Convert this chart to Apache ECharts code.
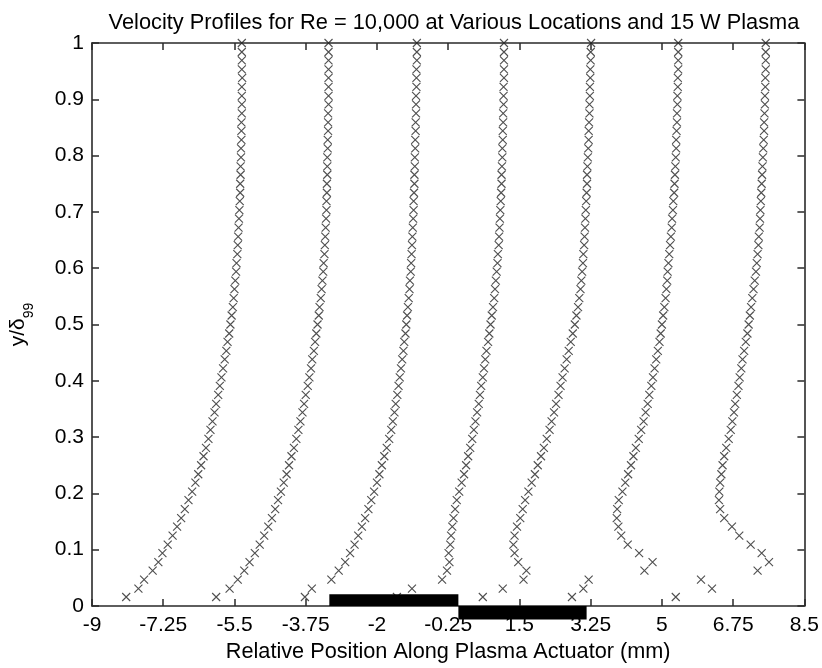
<!DOCTYPE html>
<html>
<head>
<meta charset="utf-8">
<script src="https://cdn.jsdelivr.net/npm/echarts@6/dist/echarts.min.js"></script>
<style>
html,body{margin:0;padding:0;background:#fff;}
#chart{width:822px;height:668px;}
</style>
</head>
<body>
<div id="chart"></div>
<script>
// Normalised wall-normal positions y/delta99 (shared by all profiles)
const yLevels = [0.016,0.031,0.047,0.063,0.078,0.094,0.109,0.125,0.141,0.156,0.172,0.188,0.203,0.219,0.234,0.250,
  0.266,0.281,0.297,0.313,0.328,0.344,0.359,0.375,0.391,0.406,0.422,0.438,0.453,0.469,0.484,0.500,
  0.516,0.531,0.547,0.563,0.578,0.594,0.609,0.625,0.641,0.656,0.672,0.688,0.703,0.719,0.734,0.750,
  0.766,0.781,0.797,0.813,0.828,0.844,0.859,0.875,0.891,0.906,0.922,0.938,0.953,0.969,0.984,1.000];

// Horizontal position of each marker (profile offset + scaled velocity), one array per station
const profile1 = [-8.16,-7.86,-7.72,-7.51,-7.37,-7.27,-7.14,-7.02,-6.91,-6.81,-6.72,-6.63,-6.54,-6.46,-6.39,-6.32,
  -6.26,-6.20,-6.14,-6.09,-6.04,-5.99,-5.95,-5.90,-5.86,-5.82,-5.78,-5.74,-5.70,-5.67,-5.63,-5.60,
  -5.57,-5.54,-5.52,-5.50,-5.48,-5.46,-5.45,-5.43,-5.42,-5.41,-5.40,-5.39,-5.38,-5.37,-5.36,-5.36,
  -5.35,-5.35,-5.34,-5.34,-5.33,-5.33,-5.33,-5.32,-5.32,-5.32,-5.32,-5.31,-5.32,-5.32,-5.32,-5.32];
const profile2 = [-5.95,-5.62,-5.42,-5.26,-5.13,-5.00,-4.88,-4.77,-4.67,-4.58,-4.50,-4.43,-4.36,-4.29,-4.22,-4.16,
  -4.10,-4.04,-3.98,-3.93,-3.88,-3.83,-3.79,-3.75,-3.70,-3.66,-3.62,-3.59,-3.55,-3.52,-3.49,-3.46,
  -3.43,-3.41,-3.38,-3.36,-3.34,-3.32,-3.31,-3.29,-3.28,-3.27,-3.26,-3.25,-3.24,-3.24,-3.23,-3.23,
  -3.22,-3.22,-3.22,-3.21,-3.21,-3.20,-3.20,-3.20,-3.19,-3.19,-3.19,-3.19,-3.19,-3.19,-3.19,-3.19];
const profile3 = [-3.77,-3.60,-3.12,-2.94,-2.78,-2.66,-2.55,-2.46,-2.37,-2.29,-2.21,-2.14,-2.07,-2.00,-1.94,-1.88,
  -1.82,-1.76,-1.70,-1.65,-1.61,-1.57,-1.54,-1.50,-1.47,-1.44,-1.41,-1.38,-1.35,-1.33,-1.30,-1.28,
  -1.26,-1.24,-1.22,-1.20,-1.19,-1.17,-1.16,-1.15,-1.14,-1.13,-1.12,-1.11,-1.10,-1.10,-1.09,-1.08,
  -1.08,-1.07,-1.07,-1.06,-1.06,-1.05,-1.05,-1.04,-1.04,-1.04,-1.03,-1.03,-1.03,-1.02,-1.02,-1.02];
const profile4 = [-1.51,-1.14,-0.40,-0.28,-0.22,-0.24,-0.20,-0.18,-0.15,-0.12,-0.08,-0.04,0.02,0.08,0.14,0.19,
  0.24,0.29,0.34,0.38,0.42,0.46,0.50,0.53,0.56,0.60,0.63,0.66,0.69,0.73,0.76,0.79,
  0.82,0.85,0.88,0.90,0.92,0.94,0.96,0.97,0.99,1.00,1.01,1.02,1.03,1.04,1.05,1.06,
  1.06,1.07,1.08,1.08,1.09,1.09,1.10,1.10,1.11,1.11,1.11,1.12,1.12,1.12,1.12,1.12];
const profile5 = [0.60,1.09,1.60,1.67,1.47,1.38,1.35,1.38,1.44,1.52,1.58,1.64,1.72,1.80,1.88,1.95,
  2.03,2.10,2.17,2.24,2.29,2.35,2.40,2.46,2.51,2.56,2.61,2.66,2.71,2.76,2.81,2.86,
  2.90,2.94,2.97,3.00,3.02,3.04,3.06,3.07,3.09,3.10,3.11,3.12,3.13,3.14,3.15,3.16,
  3.16,3.17,3.18,3.19,3.20,3.20,3.21,3.22,3.22,3.23,3.23,3.24,3.24,3.25,3.25,3.26];
const profile6 = [2.79,3.07,3.20,4.57,4.77,4.44,4.16,4.00,3.93,3.89,3.90,3.94,4.03,4.10,4.17,4.24,
  4.30,4.36,4.43,4.49,4.55,4.60,4.65,4.69,4.74,4.78,4.82,4.86,4.90,4.94,4.97,5.00,
  5.03,5.06,5.09,5.11,5.13,5.14,5.16,5.18,5.20,5.22,5.24,5.25,5.27,5.28,5.30,5.31,
  5.32,5.33,5.34,5.35,5.35,5.36,5.37,5.37,5.38,5.38,5.39,5.39,5.40,5.40,5.40,5.40];
const profile7 = [5.34,6.23,5.96,7.35,7.63,7.45,7.18,6.90,6.72,6.53,6.43,6.40,6.41,6.43,6.46,6.49,
  6.53,6.58,6.64,6.69,6.73,6.77,6.80,6.84,6.88,6.91,6.95,6.98,7.02,7.06,7.10,7.13,
  7.16,7.19,7.22,7.25,7.28,7.31,7.33,7.35,7.37,7.38,7.40,7.41,7.42,7.43,7.44,7.45,
  7.46,7.47,7.48,7.49,7.50,7.51,7.51,7.52,7.53,7.53,7.54,7.54,7.55,7.55,7.55,7.55];

// Plasma actuator electrodes (exposed above the surface, covered below)
const electrodeStart = [-3.17, 0.00];
const electrodeEnd = [0.00, 3.15];
const electrodeBottom = [0.000, -0.024];
const electrodeTop = [0.021, 0.000];

// Axis tick labels
const xTickLabels = ['-9','-7.25','-5.5','-3.75','-2','-0.25','1.5','3.25','5','6.75','8.5'];
const yTickLabels = ['0','0.1','0.2','0.3','0.4','0.5','0.6','0.7','0.8','0.9','1'];

const profiles = [profile1, profile2, profile3, profile4, profile5, profile6, profile7];
const FONT = '"Liberation Sans", Arial, Helvetica, sans-serif';
const INK = '#2a2a2a';

function nearestLabel(v, labels) {
  let best = labels[0], d = Infinity;
  labels.forEach(function (l) { const dd = Math.abs(parseFloat(l) - v); if (dd < d) { d = dd; best = l; } });
  return best;
}

const scatterSeries = profiles.map(function (p, k) {
  return {
    type: 'scatter',
    name: 'Station ' + (k + 1),
    xAxisIndex: 0, yAxisIndex: 0,
    data: p.map(function (x, i) { return [x, yLevels[i]]; }),
    symbol: 'path://M0,0L10,10M0,10L10,0',
    symbolSize: 8,
    itemStyle: { color: 'transparent', borderColor: '#222', borderWidth: 1.1 },
    emphasis: { disabled: true },
    silent: true,
    z: 2
  };
});

const electrodeData = electrodeStart.map(function (s, i) {
  return [s, electrodeEnd[i], electrodeBottom[i], electrodeTop[i]];
});

const electrodeSeries = {
  type: 'custom',
  xAxisIndex: 0, yAxisIndex: 0,
  clip: false,
  silent: true,
  z: 5,
  data: electrodeData,
  renderItem: function (params, api) {
    const tl = api.coord([api.value(0), api.value(3)]);
    const br = api.coord([api.value(1), api.value(2)]);
    return {
      type: 'rect',
      shape: { x: tl[0], y: tl[1], width: br[0] - tl[0], height: br[1] - tl[1] },
      style: { fill: '#000' }
    };
  }
};

const axisLineStyle = { color: INK, width: 1.6 };
const tickStyle = { show: true, inside: true, length: 7, lineStyle: { color: INK, width: 1.5 } };

const chart = echarts.init(document.getElementById('chart'), null, { renderer: 'canvas' });
chart.setOption({
  animation: false,
  backgroundColor: '#fff',
  title: {
    text: 'Velocity Profiles for Re = 10,000 at Various Locations and 15 W Plasma',
    left: 449, top: 7, textAlign: 'center',
    textStyle: { fontFamily: FONT, fontSize: 21.8, fontWeight: 'normal', color: '#000' }
  },
  grid: { left: 92, right: 15, top: 43, bottom: 61, containLabel: false },
  xAxis: [{
    type: 'value', position: 'bottom', min: -9, max: 8.5, interval: 1.75,
    name: 'Relative Position Along Plasma Actuator (mm)',
    nameLocation: 'middle', nameGap: 35,
    nameTextStyle: { fontFamily: FONT, fontSize: 21.7, color: '#000' },
    axisLine: { show: true, onZero: false, lineStyle: axisLineStyle },
    axisTick: tickStyle,
    axisLabel: { fontFamily: FONT, fontSize: 21, color: '#000', margin: 9,
      formatter: function (v) { return nearestLabel(v, xTickLabels); } },
    splitLine: { show: false }
  }, {
    type: 'value', position: 'top', min: -9, max: 8.5, interval: 1.75,
    axisLine: { show: true, onZero: false, lineStyle: axisLineStyle },
    axisTick: tickStyle,
    axisLabel: { show: false },
    splitLine: { show: false }
  }],
  yAxis: [{
    type: 'value', position: 'left', min: 0, max: 1, interval: 0.1,
    name: '{a|y/δ}{b|99}',
    nameLocation: 'middle', nameGap: 56, nameRotate: 90,
    nameTextStyle: {
      fontFamily: FONT, color: '#000',
      rich: {
        a: { fontFamily: FONT, fontSize: 21, color: '#000', lineHeight: 28, verticalAlign: 'top' },
        b: { fontFamily: FONT, fontSize: 14, color: '#000', lineHeight: 28, verticalAlign: 'bottom', padding: [10, 0, 0, 0] }
      }
    },
    axisLine: { show: true, onZero: false, lineStyle: axisLineStyle },
    axisTick: tickStyle,
    axisLabel: { fontFamily: FONT, fontSize: 21, color: '#000', margin: 8,
      formatter: function (v) { return nearestLabel(v, yTickLabels); } },
    splitLine: { show: false }
  }, {
    type: 'value', position: 'right', min: 0, max: 1, interval: 0.1,
    axisLine: { show: true, onZero: false, lineStyle: axisLineStyle },
    axisTick: tickStyle,
    axisLabel: { show: false },
    splitLine: { show: false }
  }],
  series: scatterSeries.concat([electrodeSeries])
});
</script>
</body>
</html>
